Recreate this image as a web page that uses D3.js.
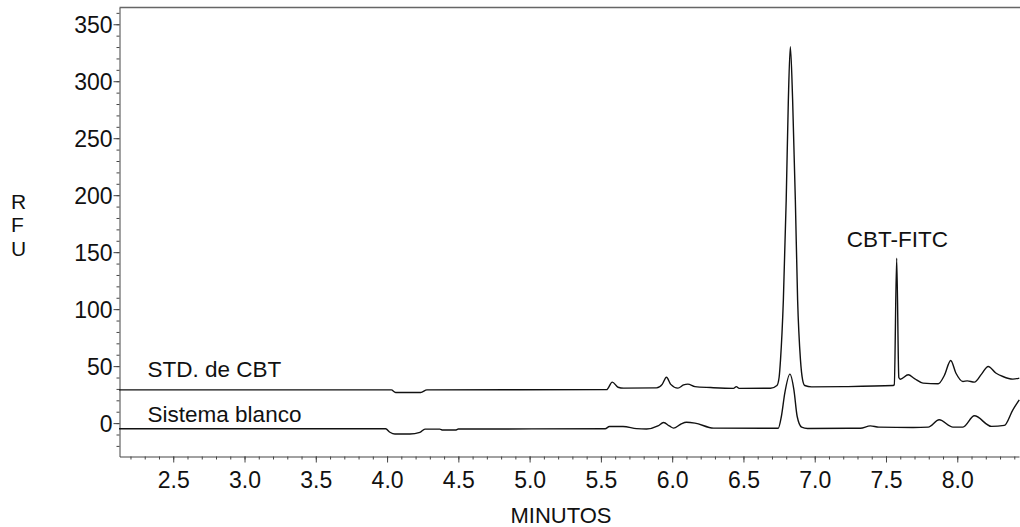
<html>

<head>
  <script src="https://d3js.org/d3.v7.min.js"></script>

  <style>
    body {
      margin: 0;
      background: #fff;
    }

    svg text {
      font-family: "Liberation Sans", Arial, sans-serif;
      fill: #111;
    }

    .axis path,
    .axis line {
      stroke: #444;
    }
  </style>
</head>

<body>
  <svg id="chart" width="1020" height="527"></svg>

  <script>
    // retention time (min) and RFU, standard sample
    const stdTime = [2.12, 4.03, 4.06, 4.236, 4.28, 5.54, 5.58, 5.62, 5.66, 5.89, 5.93, 5.96, 5.99, 6.04,
      6.08, 6.11, 6.16, 6.27, 6.43, 6.45, 6.47, 6.69, 6.735, 6.75, 6.76, 6.78, 6.8, 6.815, 6.829, 6.845,
      6.864, 6.88, 6.9, 6.915, 6.93, 6.978, 7.2, 7.55, 7.558, 7.575, 7.59, 7.6, 7.656, 7.7, 7.76, 7.866,
      7.91, 7.954, 7.99, 8.04, 8.07, 8.12, 8.17, 8.217, 8.27, 8.32, 8.39, 8.435];
    const stdRFU = [29.2, 29.2, 26.9, 26.9, 29.2, 29.4, 36, 31.5, 30.7, 30.9, 34, 40.3, 34, 30.7,
      33.5, 34.2, 32, 31.2, 30.5, 32, 30.5, 30.6, 33, 40, 55.5, 108, 196, 283.6, 330.4, 283.6,
      196, 108, 55.5, 38, 33, 31.8, 32, 33, 33.6, 144.7, 40, 38.5, 42.4, 39, 35.1, 34.5,
      42, 54.9, 44, 36.5, 37.1, 36, 43, 49.7, 44, 40.9, 38.6, 39.5];

    // blank system trace
    const blankTime = [2.12, 3.99, 4.02, 4.055, 4.16, 4.23, 4.266, 4.37, 4.39, 4.48, 4.5, 5.53, 5.56, 5.655,
      5.75, 5.82, 5.9, 5.94, 5.98, 6.01, 6.06, 6.1, 6.16, 6.29, 6.744, 6.766, 6.79, 6.826, 6.854, 6.877,
      6.908, 6.95, 7.32, 7.39, 7.45, 7.69, 7.796, 7.873, 7.97, 8.04, 8.12, 8.24, 8.33, 8.39, 8.435];
    const blankRFU = [-5, -5, -8, -9.6, -9.6, -8.2, -5.3, -5.3, -6.1, -6.1, -5.2, -5, -3, -3,
      -4.8, -5.2, -2.5, 0.5, -2.5, -4.4, -1, 0.7, 0, -4.4, -4.5, 5.8, 26.3, 43, 29.2, 5.8,
      -3.5, -4.7, -4.5, -2.4, -3.5, -3.8, -3.5, 2.9, -3.5, -3.5, 6.4, -2.9, -2, 11.7, 20.4];

    const xTicks = [2.5, 3.0, 3.5, 4.0, 4.5, 5.0, 5.5, 6.0, 6.5, 7.0, 7.5, 8.0];
    const yTicks = [0, 50, 100, 150, 200, 250, 300, 350];

    const traceLabels = [
      { text: "STD. de CBT", t: 2.32, v: 40.9 },
      { text: "Sistema blanco", t: 2.32, v: 1.4 }
    ];
    const peakLabel = { text: "CBT-FITC", t: 7.58, v: 154.5 };

    const svg = d3.select("svg#chart");
    const plot = { left: 119.5, right: 1019, top: 7.5, bottom: 456.5 };

    const xScale = d3.scaleLinear().domain([2.123, 8.433]).range([plot.left, plot.right]);
    const yScale = d3.scaleLinear().domain([-29.3, 364.7]).range([plot.bottom, plot.top]);

    // frame: top border
    svg.append("line")
      .attr("x1", plot.left).attr("x2", 1020)
      .attr("y1", plot.top).attr("y2", plot.top)
      .attr("stroke", "#666").attr("stroke-width", 1.5);

    // y axis, minor ticks then major
    svg.append("g")
      .attr("class", "axis")
      .attr("transform", `translate(${plot.left},0)`)
      .call(d3.axisLeft(yScale).tickValues(d3.range(-20, 361, 10)).tickSize(3).tickSizeOuter(0).tickFormat(""));

    const yAxis = svg.append("g")
      .attr("class", "axis")
      .attr("transform", `translate(${plot.left},0)`)
      .call(d3.axisLeft(yScale).tickValues(yTicks).tickSize(6).tickSizeOuter(0).tickPadding(1));
    yAxis.select(".domain").remove();
    yAxis.selectAll("text").style("font-size", "23px").attr("dy", "0.36em");

    // x axis
    svg.append("g")
      .attr("class", "axis")
      .attr("transform", `translate(0,${plot.bottom})`)
      .call(d3.axisBottom(xScale).tickValues(d3.range(2.2, 8.44, 0.1)).tickSize(3).tickSizeOuter(0).tickFormat(""));

    const xAxis = svg.append("g")
      .attr("class", "axis")
      .attr("transform", `translate(0,${plot.bottom})`)
      .call(d3.axisBottom(xScale).tickValues(xTicks).tickSize(6).tickSizeOuter(0).tickFormat(d3.format(".1f")));
    xAxis.select(".domain").remove();
    xAxis.selectAll("text").style("font-size", "23px").attr("y", 31.5).attr("dy", 0);

    // axis titles
    svg.append("text")
      .attr("x", 561).attr("y", 522.5)
      .attr("text-anchor", "middle")
      .style("font-size", "22px")
      .text("MINUTOS");

    svg.append("text")
      .attr("x", 11).attr("y", 208.5)
      .style("font-size", "21px")
      .selectAll("tspan")
      .data(["R", "F", "U"])
      .enter().append("tspan")
      .attr("x", 11)
      .attr("dy", (d, i) => i === 0 ? 0 : 23.5)
      .text(d => d);

    // traces
    const line = d3.line()
      .x(d => xScale(d[0]))
      .y(d => yScale(d[1]))
      .curve(d3.curveMonotoneX);

    const traces = [
      d3.zip(stdTime, stdRFU),
      d3.zip(blankTime, blankRFU)
    ];

    svg.selectAll(".trace")
      .data(traces)
      .enter().append("path")
      .attr("class", "trace")
      .attr("d", line)
      .attr("fill", "none")
      .attr("stroke", "#111")
      .attr("stroke-width", 1.4);

    svg.selectAll(".tlabel")
      .data(traceLabels)
      .enter().append("text")
      .attr("class", "tlabel")
      .attr("x", d => xScale(d.t))
      .attr("y", d => yScale(d.v))
      .style("font-size", "22.5px")
      .text(d => d.text);

    svg.append("text")
      .attr("x", xScale(peakLabel.t))
      .attr("y", yScale(peakLabel.v))
      .attr("text-anchor", "middle")
      .style("font-size", "22.5px")
      .text(peakLabel.text);
  </script>

</body>

</html>
